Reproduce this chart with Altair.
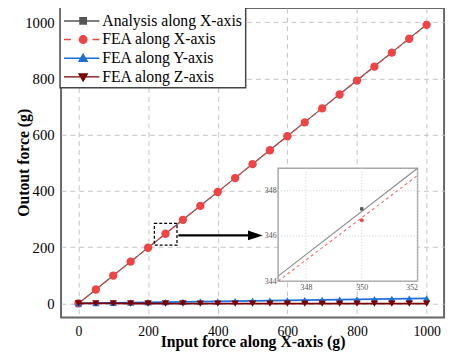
import altair as alt
import pandas as pd

FONT = "Liberation Serif"

input_force = [0, 50, 100, 150, 200, 250, 300, 350, 400, 450, 500,
               550, 600, 650, 700, 750, 800, 850, 900, 950, 1000]
analysis_x = [0, 49.6, 99.2, 148.8, 198.4, 248.0, 297.6, 347.2, 396.8, 446.4, 496.0,
              545.6, 595.2, 644.8, 694.4, 744.0, 793.6, 843.2, 892.8, 942.4, 992.0]
fea_x = [0, 49.5, 99.1, 148.6, 198.1, 247.7, 297.2, 346.7, 396.2, 445.8, 495.3,
         544.8, 594.4, 643.9, 693.4, 743.0, 792.5, 842.0, 891.6, 941.1, 990.6]
fea_y = [0, 0.9, 1.8, 2.7, 3.6, 4.5, 5.3, 6.2, 7.1, 8.0, 8.9,
         9.8, 10.7, 11.6, 12.5, 13.3, 14.2, 15.1, 16.0, 16.9, 17.8]
fea_z = [0, -0.1, -0.1, -0.2, -0.2, -0.3, -0.3, -0.4, -0.4, -0.5, -0.5,
         -0.6, -0.6, -0.7, -0.7, -0.8, -0.8, -0.9, -0.9, -1.0, -1.0]

series_names = ["Analysis along X-axis", "FEA along X-axis", "FEA along Y-axis", "FEA along Z-axis"]
series_colors = ["#555555", "#ef4444", "#1f6fd8", "#7a0000"]
legend_paths = [
    "M-1,0H2.6M0.63,-0.32H1.27V0.32H0.63Z",
    "M-1,0H-0.3M1.9,0H2.6M1.33,0A0.38,0.38 0 1,1 0.57,0A0.38,0.38 0 1,1 1.33,0Z",
    "M-1,0H2.6M0.95,-0.4L1.36,0.3H0.54Z",
    "M-1,0H2.6M0.95,0.4L1.36,-0.3H0.54Z",
]

main_ticks = [0, 200, 400, 600, 800, 1000]
main_domain = [-50, 1050]

inset_x_domain = [347, 352]
inset_y_domain = [344, 349]
inset_ticks_x = [348, 350, 352]
inset_ticks_y = [344, 346, 348]
inset_point_x = 350

zoom_box = pd.DataFrame({"x": [218], "x2": [283], "y": [207], "y2": [285]})
arrow_line = pd.DataFrame({"x": [287], "x2": [508], "y": [242]})
arrow_head = pd.DataFrame({"x": [508], "y": [242]})

W, H = 390, 315
INSET_PX_X = [221, 363]
INSET_PX_Y = [278, 163]

xs = alt.Scale(domain=main_domain, nice=False, zero=False)
ys = alt.Scale(domain=main_domain, nice=False, zero=False)
xaxis = alt.Axis(orient="bottom", values=main_ticks, format="d", grid=True, gridDash=[5, 4],
                 gridColor="#c4c4c4", ticks=False, domain=False, labelFont=FONT, labelFontSize=14,
                 labelColor="black", labelPadding=7, titleFont=FONT, titleFontSize=16,
                 titleFontWeight="bold", titleColor="black", titleBaseline="alphabetic", titleY=30,
                 labelFlush=False)
yaxis = alt.Axis(orient="left", values=main_ticks, format="d", grid=True, gridDash=[5, 4],
                 gridColor="#c4c4c4", ticks=False, domain=False, labelFont=FONT, labelFontSize=15,
                 labelColor="black", labelPadding=7, titleFont=FONT, titleFontSize=16,
                 titleFontWeight="bold", titleColor="black", titleX=-30, titleY=157, labelFlush=False)
X = alt.X("x:Q", scale=xs, axis=xaxis, title="Input force along X-axis (g)")
Y = alt.Y("y:Q", scale=ys, axis=yaxis, title="Outout force (g)")


def series(vals, color, shape, size, width, dash=None):
    df = pd.DataFrame({"x": input_force, "y": vals})
    base = alt.Chart(df).encode(x=X, y=Y)
    if dash:
        line = base.mark_line(color=color, strokeWidth=width, strokeDash=dash)
    else:
        line = base.mark_line(color=color, strokeWidth=width)
    pts = base.mark_point(shape=shape, filled=True, size=size, color=color, opacity=1)
    return [line, pts]


layers = []
layers += series(analysis_x, series_colors[0], "square", 30, 1.2)
layers += series(fea_x, series_colors[1], "circle", 72, 1.2, [5, 3])
layers += series(fea_y, series_colors[2], "triangle-up", 55, 1.8)
layers += series(fea_z, series_colors[3], "triangle-down", 55, 1.8)

box = alt.Chart(zoom_box).mark_rect(fillOpacity=0, stroke="black", strokeDash=[3, 2], strokeWidth=1.3).encode(
    x=X, x2="x2:Q", y=Y, y2="y2:Q")
arr = alt.Chart(arrow_line).mark_rule(color="black", strokeWidth=2.5).encode(x=X, x2="x2:Q", y=Y)
head = alt.Chart(arrow_head).mark_point(shape="M1,0L-1,-0.65L-1,0.65Z", filled=True, size=225,
                                        color="black", opacity=1).encode(x=X, y=Y)

SYM = 400
leg = alt.Legend(title=None, orient="none", legendX=-1, legendY=-1, fillColor="white", strokeColor="#444",
                 padding=3, labelFont=FONT, labelFontSize=16, labelColor="black", symbolSize=SYM,
                 symbolStrokeWidth=1.5, rowPadding=0, labelOffset=18, labelLimit=300, symbolOpacity=1)
legend_df = pd.DataFrame({"series": series_names})
legend_layer = alt.Chart(legend_df).transform_filter("false").mark_point(
    filled=True, size=SYM, strokeWidth=1.5).encode(
    shape=alt.Shape("series:N", scale=alt.Scale(domain=series_names, range=legend_paths), legend=leg),
    fill=alt.Fill("series:N", scale=alt.Scale(domain=series_names, range=series_colors), legend=leg),
    stroke=alt.Stroke("series:N", scale=alt.Scale(domain=series_names, range=series_colors), legend=leg),
)

main = alt.layer(*layers, box, arr, head, legend_layer)

# Inset
ixs = alt.Scale(domain=inset_x_domain, range=INSET_PX_X, nice=False, zero=False, clamp=True)
iys = alt.Scale(domain=inset_y_domain, range=INSET_PX_Y, nice=False, zero=False, clamp=True)
ixaxis = alt.Axis(orient="bottom", offset=-(H - INSET_PX_Y[0]), values=inset_ticks_x, grid=False,
                  ticks=False, domain=False, labelFont=FONT, labelFontSize=8, labelColor="#555",
                  labelPadding=3, title=None)
iyaxis = alt.Axis(orient="left", offset=-INSET_PX_X[0], values=inset_ticks_y, grid=False,
                  ticks=False, domain=False, labelFont=FONT, labelFontSize=8, labelColor="#555",
                  labelPadding=2, title=None)
IX = alt.X("x:Q", scale=ixs, axis=ixaxis)
IY = alt.Y("y:Q", scale=iys, axis=iyaxis)

inset_bg_df = pd.DataFrame({"x": [inset_x_domain[0]], "x2": [inset_x_domain[1]],
                            "y": [inset_y_domain[0]], "y2": [inset_y_domain[1]]})
inset_bg = alt.Chart(inset_bg_df).mark_rect(fill="white", stroke="#a8a8a8", strokeWidth=1.5).encode(
    x=IX, x2="x2:Q", y=IY, y2="y2:Q")
gv = alt.Chart(pd.DataFrame({"x": inset_ticks_x, "y": [inset_y_domain[0]] * 3, "y2": [inset_y_domain[1]] * 3})
               ).mark_rule(color="#cfcfcf", strokeDash=[1, 2], strokeWidth=1).encode(x=IX, y=IY, y2="y2:Q")
gh = alt.Chart(pd.DataFrame({"y": inset_ticks_y, "x": [inset_x_domain[0]] * 3, "x2": [inset_x_domain[1]] * 3})
               ).mark_rule(color="#cfcfcf", strokeDash=[1, 2], strokeWidth=1).encode(y=IY, x=IX, x2="x2:Q")

an_df = pd.DataFrame({"x": input_force, "y": analysis_x})
fx_df = pd.DataFrame({"x": input_force, "y": fea_x})
near = "datum.x >= 300 && datum.x <= 400"
an_line = alt.Chart(an_df).transform_filter(near).transform_regression(
    "x", "y", extent=inset_x_domain).mark_line(color="#8a8a8a", strokeWidth=1.1).encode(x=IX, y=IY)
fx_line = alt.Chart(fx_df).transform_filter(near).transform_regression(
    "x", "y", extent=inset_x_domain).mark_line(color="#f26a6a", strokeWidth=1.1, strokeDash=[3, 3]).encode(x=IX, y=IY)
pick = f"datum.x == {inset_point_x}"
an_pt = alt.Chart(an_df).transform_filter(pick).mark_point(shape="square", filled=True, size=12,
                                                           color="#555555", opacity=1).encode(x=IX, y=IY)
fx_pt = alt.Chart(fx_df).transform_filter(pick).mark_point(shape="circle", filled=True, size=16,
                                                           color="#f04a4a", opacity=1).encode(x=IX, y=IY)

inset = alt.layer(inset_bg, gv, gh, an_line, fx_line, an_pt, fx_pt)

chart = alt.layer(main, inset).resolve_scale(x="independent", y="independent").properties(
    width=W, height=H,
    padding={"left": 54, "top": -3, "right": 4, "bottom": 32},
    autosize=alt.AutoSizeParams(type="none"),
).configure(font=FONT).configure_view(stroke="#666666", strokeWidth=2).configure_legend(
    strokeWidth=1.5, labelFont=FONT, labelFontSize=16)

chart.save("out.html", embed_options={"renderer": "svg", "actions": False})
